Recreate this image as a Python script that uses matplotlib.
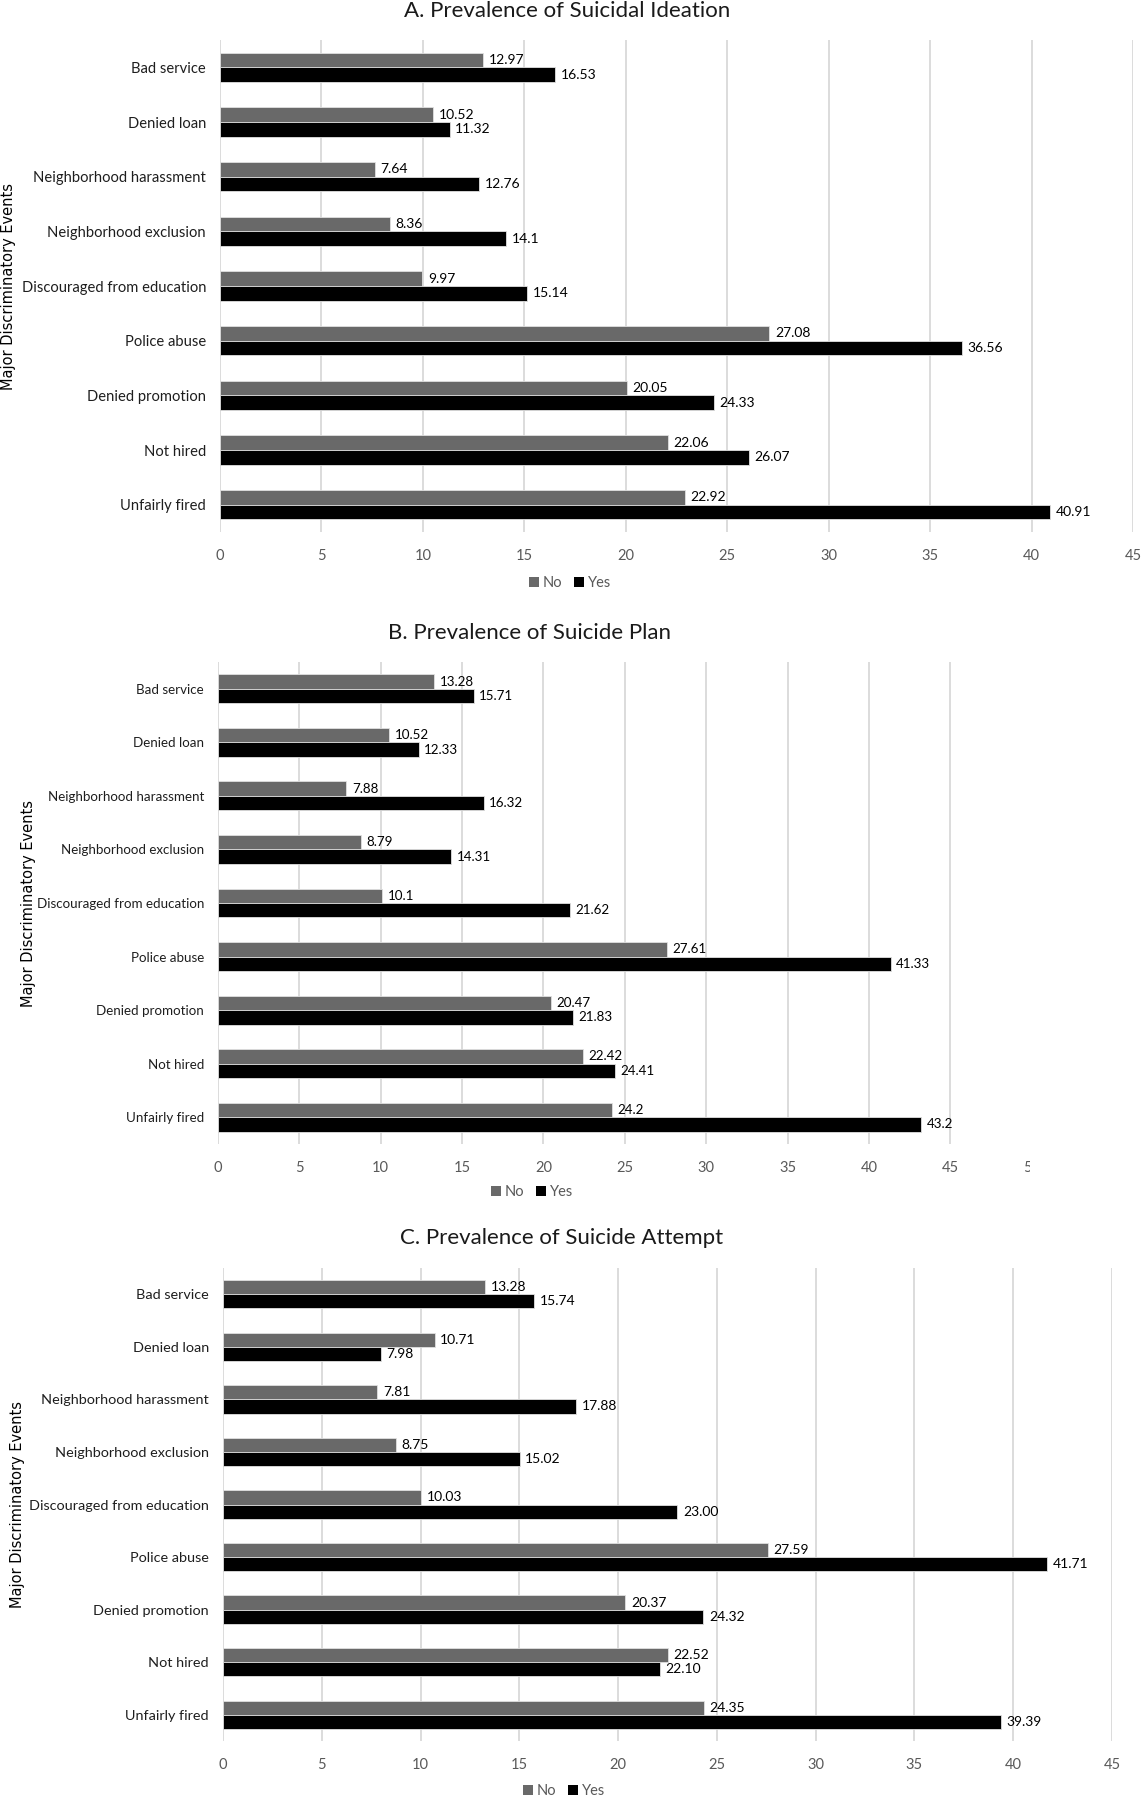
import numpy as np
import matplotlib
matplotlib.use("Agg")
import matplotlib.pyplot as plt
from matplotlib.patches import Patch
from matplotlib.transforms import Bbox, TransformedBbox

plt.rcParams['font.family'] = ['Lato', 'DejaVu Sans']

categories = ["Bad service", "Denied loan", "Neighborhood harassment",
              "Neighborhood exclusion", "Discouraged from education",
              "Police abuse", "Denied promotion", "Not hired", "Unfairly fired"]

ideation_no = [12.97, 10.52, 7.64, 8.36, 9.97, 27.08, 20.05, 22.06, 22.92]
ideation_yes = [16.53, 11.32, 12.76, 14.1, 15.14, 36.56, 24.33, 26.07, 40.91]
plan_no = [13.28, 10.52, 7.88, 8.79, 10.1, 27.61, 20.47, 22.42, 24.2]
plan_yes = [15.71, 12.33, 16.32, 14.31, 21.62, 41.33, 21.83, 24.41, 43.2]
attempt_no = [13.28, 10.71, 7.81, 8.75, 10.03, 27.59, 20.37, 22.52, 24.35]
attempt_yes = [15.74, 7.98, 17.88, 15.02, 23.00, 41.71, 24.32, 22.10, 39.39]

titles = ["A. Prevalence of Suicidal Ideation",
          "B. Prevalence of Suicide Plan",
          "C. Prevalence of Suicide Attempt"]
series_names = ["No", "Yes"]
ylabel = "Major Discriminatory Events"

W, H = 1141, 1800
fig = plt.figure(figsize=(W / 100, H / 100), dpi=100)

NO_C = "#696969"
YES_C = "#000000"
GRID_C = "#d9d9d9"

panels = [
    dict(no=ideation_no, yes=ideation_yes, title=titles[0], x0=220, x1=1133, xmax=45,
         top=40, bottom=532, tx=567, ty=11, lx=570, ly=583, yx=9, fmt="%g", cfs=10.6, dfs=10),
    dict(no=plan_no, yes=plan_yes, title=titles[1], x0=218, x1=1031.6, xmax=50,
         top=662, bottom=1144, tx=529, ty=633, lx=532, ly=1192, yx=29, fmt="%g", cfs=9.6, dfs=9.6),
    dict(no=attempt_no, yes=attempt_yes, title=titles[2], x0=223, x1=1112, xmax=45,
         top=1268, bottom=1741, tx=562, ty=1238, lx=564, ly=1791, yx=18, fmt="%.2f", cfs=10.4, dfs=10),
]

bh = 0.27
y = np.arange(len(categories))

for i, p in enumerate(panels):
    ax = fig.add_axes([p["x0"] / W, 1 - p["bottom"] / H,
                       (p["x1"] - p["x0"]) / W, (p["bottom"] - p["top"]) / H])
    b1 = ax.barh(y - bh / 2, p["no"], height=bh, color=NO_C, edgecolor="#e0e0e0",
                 linewidth=0.6, zorder=3)
    b2 = ax.barh(y + bh / 2, p["yes"], height=bh, color=YES_C, edgecolor="#e0e0e0",
                 linewidth=0.6, zorder=3)
    ax.bar_label(b1, fmt=p["fmt"], padding=4, fontsize=p["dfs"], color="black")
    ax.bar_label(b2, fmt=p["fmt"], padding=4, fontsize=p["dfs"], color="black")
    ax.set_ylim(len(categories) - 0.5, -0.5)
    ax.set_xlim(0, p["xmax"])
    ax.set_xticks(np.arange(0, p["xmax"] + 1, 5))
    ax.set_yticks(y)
    ax.set_yticklabels(categories, fontsize=p["cfs"], color="#1e1e1e")
    ax.tick_params(axis="both", length=0)
    ax.tick_params(axis="y", pad=10)
    ax.tick_params(axis="x", pad=12, labelsize=10.5, labelcolor="#595959")
    for s in ax.spines.values():
        s.set_visible(False)
    ax.grid(axis="x", color=GRID_C, linewidth=1.3, zorder=0)
    ax.set_axisbelow(True)
    if p["xmax"] == 50:
        ax.xaxis.get_gridlines()[-1].set_visible(False)
        clip = TransformedBbox(Bbox([[0, 0], [1030 / W, 1]]), fig.transFigure)
        lab = ax.get_xticklabels()[-1]
        lab.set_clip_box(clip)
        lab.set_clip_on(True)
    fig.text(p["tx"] / W, 1 - p["ty"] / H, p["title"], fontsize=16, ha="center",
             va="center", color="#1a1a1a")
    fig.text(p["yx"] / W, 1 - ((p["top"] + p["bottom"]) / 2) / H, ylabel, rotation=90,
             ha="center", va="center", fontsize=10.5, family="DejaVu Sans", color="black")
    handles = [Patch(facecolor=NO_C), Patch(facecolor=YES_C)]
    fig.legend(handles, series_names, loc="center", bbox_to_anchor=(p["lx"] / W, 1 - p["ly"] / H),
               ncol=2, frameon=False, fontsize=10.5, handlelength=0.7, handleheight=0.7,
               handletextpad=0.25, columnspacing=0.8, labelcolor="#595959")

fig.savefig("out.png", dpi=100, facecolor="white")
